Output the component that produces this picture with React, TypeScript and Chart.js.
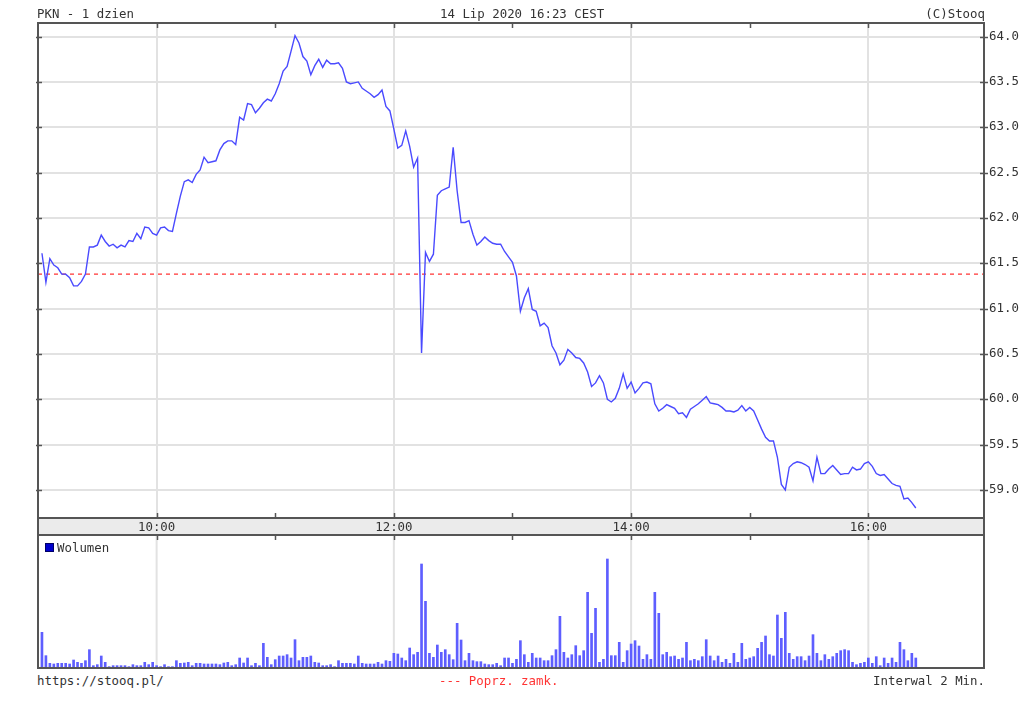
import React, { useEffect, useRef } from 'react';
import { Chart, registerables } from 'chart.js';

Chart.register(...registerables);

const FONT = "'DejaVu Sans Mono', monospace";
const FONT_SIZE = 12.4;

// Session: 9:00 start, one point every 2 minutes (first at 9:02, last at 16:24)
const SESSION_START_HOUR = 9;
const INTERVAL_MIN = 2;
const X_MAX_MIN = 478.5;

const PREV_CLOSE = 61.38;
const Y_MIN = 58.69;
const Y_MAX = 64.15;
const Y_TICKS = [59.0, 59.5, 60.0, 60.5, 61.0, 61.5, 62.0, 62.5, 63.0, 63.5, 64.0];
const X_LABEL_HOURS = [10, 12, 14, 16];
const X_TICK_HOURS = [10, 11, 12, 13, 14, 15, 16];

const PRICE = [
  61.61, 61.29, 61.55, 61.48, 61.45, 61.38, 61.38, 61.34, 61.25, 61.25,
  61.30, 61.38, 61.68, 61.68, 61.70, 61.81, 61.74, 61.69, 61.71, 61.67,
  61.70, 61.68, 61.75, 61.74, 61.83, 61.77, 61.90, 61.89, 61.83, 61.81,
  61.89, 61.90, 61.86, 61.85, 62.05, 62.24, 62.40, 62.42, 62.39, 62.48,
  62.53, 62.67, 62.61, 62.62, 62.63, 62.75, 62.82, 62.85, 62.85, 62.81,
  63.11, 63.08, 63.26, 63.25, 63.16, 63.21, 63.27, 63.31, 63.29, 63.37,
  63.48, 63.62, 63.67, 63.84, 64.01, 63.93, 63.78, 63.73, 63.58, 63.68,
  63.75, 63.66, 63.74, 63.70, 63.70, 63.71, 63.65, 63.50, 63.48, 63.49,
  63.50, 63.43, 63.40, 63.37, 63.33, 63.36, 63.41, 63.23, 63.18, 62.98,
  62.77, 62.80, 62.96, 62.79, 62.56, 62.66, 60.51, 61.62, 61.52, 61.60,
  62.25, 62.30, 62.32, 62.34, 62.78, 62.30, 61.95, 61.95, 61.97, 61.82,
  61.70, 61.74, 61.79, 61.75, 61.72, 61.71, 61.71, 61.63, 61.57, 61.51,
  61.36, 60.97, 61.12, 61.22, 60.99, 60.97, 60.81, 60.84, 60.79, 60.59,
  60.51, 60.38, 60.43, 60.55, 60.51, 60.46, 60.45, 60.40, 60.30, 60.14,
  60.18, 60.26, 60.18, 60.00, 59.97, 60.01, 60.12, 60.28, 60.12, 60.19,
  60.07, 60.12, 60.18, 60.19, 60.17, 59.95, 59.87, 59.90, 59.94, 59.92,
  59.90, 59.84, 59.85, 59.80, 59.89, 59.92, 59.95, 59.99, 60.03, 59.96,
  59.95, 59.94, 59.91, 59.87, 59.87, 59.86, 59.88, 59.93, 59.87, 59.91,
  59.87, 59.77, 59.67, 59.58, 59.54, 59.54, 59.36, 59.06, 59.00, 59.25,
  59.29, 59.31, 59.30, 59.28, 59.25, 59.10, 59.36, 59.18, 59.18, 59.23,
  59.27, 59.22, 59.17, 59.18, 59.18, 59.25, 59.22, 59.23, 59.29, 59.31,
  59.26, 59.18, 59.16, 59.17, 59.12, 59.07, 59.05, 59.04, 58.90, 58.91,
  58.86, 58.80,
];

const VOLUME = [
  107, 37, 14, 12, 14, 14, 14, 12, 24, 17,
  14, 22, 55, 7, 10, 36, 17, 4, 7, 7,
  7, 7, 4, 10, 7, 7, 17, 10, 17, 7,
  4, 10, 4, 4, 22, 14, 15, 17, 7, 14,
  14, 12, 12, 12, 12, 10, 15, 17, 7, 10,
  30, 15, 30, 7, 14, 7, 74, 32, 10, 25,
  36, 36, 40, 30, 85, 22, 32, 32, 36, 17,
  15, 7, 7, 10, 4, 22, 14, 14, 14, 12,
  36, 14, 12, 12, 12, 17, 12, 22, 20, 44,
  42, 30, 22, 60, 40, 47, 312, 200, 44, 32,
  69, 47, 55, 40, 25, 134, 84, 22, 44, 22,
  19, 19, 12, 10, 10, 14, 7, 30, 30, 14,
  26, 82, 40, 17, 44, 30, 30, 22, 22, 37,
  55, 155, 47, 30, 40, 67, 37, 52, 227, 104,
  179, 17, 26, 327, 37, 37, 77, 17, 52, 72,
  82, 66, 26, 40, 26, 227, 164, 40, 47, 34,
  36, 26, 30, 77, 22, 26, 22, 34, 85, 36,
  22, 36, 17, 26, 14, 44, 17, 74, 26, 30,
  34, 59, 77, 96, 40, 36, 159, 89, 167, 44,
  26, 34, 34, 22, 36, 100, 44, 22, 40, 26,
  34, 44, 52, 55, 52, 17, 10, 14, 17, 30,
  14, 34, 7, 30, 14, 30, 17, 77, 55, 22,
  44, 30,
];
const VOLUME_MAX = 399;

const minuteOf = (i: number) => INTERVAL_MIN * (i + 1);
const hourToMin = (h: number) => (h - SESSION_START_HOUR) * 60;

const GRID = '#e2e2e2';
const FRAME = '#555555';
const TEXT = '#333333';
const BAND_H = 17;

function tick(ctx: CanvasRenderingContext2D, x1: number, y1: number, x2: number, y2: number) {
  ctx.beginPath();
  ctx.moveTo(x1, y1);
  ctx.lineTo(x2, y2);
  ctx.stroke();
}

const pricePanelPlugin = {
  id: 'pricePanel',
  beforeDraw(chart: any) {
    const { ctx, chartArea: a } = chart;
    ctx.save();
    ctx.fillStyle = '#ebebeb';
    ctx.fillRect(a.left, a.bottom, a.right - a.left, BAND_H);
    ctx.restore();
  },
  afterDraw(chart: any) {
    const { ctx, chartArea: a, scales } = chart;
    ctx.save();
    ctx.strokeStyle = FRAME;
    ctx.lineWidth = 2;
    ctx.strokeRect(a.left, a.top, a.right - a.left, a.bottom - a.top);
    ctx.strokeRect(a.left, a.bottom, a.right - a.left, BAND_H);
    ctx.lineWidth = 1.5;
    X_TICK_HOURS.forEach((h) => {
      const x = Math.round(scales.x.getPixelForValue(hourToMin(h))) + 0.5;
      tick(ctx, x, a.top, x, a.top + 5);
      tick(ctx, x, a.bottom, x, a.bottom - 5);
    });
    Y_TICKS.forEach((v) => {
      const y = Math.round(scales.y.getPixelForValue(v)) + 0.5;
      tick(ctx, a.left - 2, y, a.left + 4, y);
      tick(ctx, a.right - 4, y, a.right + 4, y);
    });
    ctx.restore();
  },
};

const volumePanelPlugin = {
  id: 'volumePanel',
  beforeDatasetsDraw(chart: any) {
    const { ctx, chartArea: a, scales } = chart;
    ctx.save();
    ctx.strokeStyle = GRID;
    ctx.lineWidth = 2;
    X_LABEL_HOURS.forEach((h) => {
      const x = scales.x.getPixelForValue(hourToMin(h));
      tick(ctx, x, a.top, x, a.bottom);
    });
    ctx.restore();
  },
  afterDraw(chart: any) {
    const { ctx, chartArea: a, scales } = chart;
    ctx.save();
    ctx.strokeStyle = FRAME;
    ctx.lineWidth = 2;
    ctx.strokeRect(a.left, a.top, a.right - a.left, a.bottom - a.top);
    ctx.lineWidth = 1.5;
    X_TICK_HOURS.forEach((h) => {
      const x = Math.round(scales.x.getPixelForValue(hourToMin(h))) + 0.5;
      tick(ctx, x, a.top, x, a.top + 5);
    });
    ctx.restore();
  },
};

const textStyle: React.CSSProperties = {
  position: 'absolute',
  fontFamily: FONT,
  fontSize: FONT_SIZE,
  lineHeight: '14px',
  color: TEXT,
  whiteSpace: 'pre',
};

export default function App() {
  const priceRef = useRef<HTMLCanvasElement>(null);
  const volRef = useRef<HTMLCanvasElement>(null);

  useEffect(() => {
    const priceChart = new Chart(priceRef.current!, {
      type: 'line',
      data: {
        datasets: [
          {
            label: 'Poprz. zamk.',
            data: [
              { x: 0, y: PREV_CLOSE },
              { x: X_MAX_MIN, y: PREV_CLOSE },
            ],
            borderColor: '#ff3c3c',
            borderWidth: 1.3,
            borderDash: [4, 4],
            pointRadius: 0,
            order: 2,
          },
          {
            label: 'PKN',
            data: PRICE.map((v, i) => ({ x: minuteOf(i), y: v })),
            borderColor: '#4a4aff',
            borderWidth: 1.4,
            pointRadius: 0,
            tension: 0,
            order: 1,
          },
        ],
      },
      options: {
        responsive: false,
        animation: false,
        devicePixelRatio: 1,
        layout: { padding: { left: 38, top: 23, right: 0, bottom: 0 } },
        plugins: { legend: { display: false }, tooltip: { enabled: false } },
        scales: {
          x: {
            type: 'linear',
            min: 0,
            max: X_MAX_MIN,
            position: 'bottom',
            afterBuildTicks: (s: any) => {
              s.ticks = X_LABEL_HOURS.map((h) => ({ value: hourToMin(h) }));
            },
            afterFit: (s: any) => {
              s.height = BAND_H;
            },
            grid: { color: GRID, lineWidth: 2, drawTicks: false },
            border: { display: false },
            ticks: {
              callback: (v: any) => `${SESSION_START_HOUR + Number(v) / 60}:00`,
              font: { family: FONT, size: FONT_SIZE },
              color: TEXT,
              padding: 2,
              maxRotation: 0,
              autoSkip: false,
            },
          },
          y: {
            type: 'linear',
            position: 'right',
            min: Y_MIN,
            max: Y_MAX,
            afterBuildTicks: (s: any) => {
              s.ticks = Y_TICKS.map((v) => ({ value: v }));
            },
            afterFit: (s: any) => {
              s.width = 40;
            },
            grid: { color: GRID, lineWidth: 2, drawTicks: false },
            border: { display: false },
            ticks: {
              callback: (v: any) => Number(v).toFixed(1),
              font: { family: FONT, size: FONT_SIZE },
              color: TEXT,
              padding: 5,
              autoSkip: false,
            },
          },
        },
      },
      plugins: [pricePanelPlugin],
    } as any);

    const volChart = new Chart(volRef.current!, {
      type: 'bar',
      data: {
        datasets: [
          {
            label: 'Wolumen',
            data: VOLUME.map((v, i) => ({ x: minuteOf(i), y: v })),
            backgroundColor: '#5e5eff',
            borderWidth: 0,
            barThickness: 2,
          },
        ],
      },
      options: {
        responsive: false,
        animation: false,
        devicePixelRatio: 1,
        layout: { padding: { left: 38, right: 40, top: 2, bottom: 3 } },
        plugins: { legend: { display: false }, tooltip: { enabled: false } },
        scales: {
          x: { type: 'linear', min: 0, max: X_MAX_MIN, display: false, offset: false },
          y: { type: 'linear', min: 0, max: VOLUME_MAX, display: false },
        },
      },
      plugins: [volumePanelPlugin],
    } as any);

    return () => {
      priceChart.destroy();
      volChart.destroy();
    };
  }, []);

  return (
    <div style={{ position: 'fixed', left: 0, top: 0, width: 1024, height: 703, background: '#fff' }}>
      <canvas ref={priceRef} width={1024} height={535} style={{ position: 'absolute', left: 0, top: 0 }} />
      <canvas ref={volRef} width={1024} height={138} style={{ position: 'absolute', left: 0, top: 533 }} />
      <div style={{ ...textStyle, left: 37, top: 7 }}>PKN - 1 dzien</div>
      <div style={{ ...textStyle, left: 440, top: 7 }}>14 Lip 2020 16:23 CEST</div>
      <div style={{ ...textStyle, left: 0, width: 985, top: 7, textAlign: 'right' }}>(C)Stooq</div>
      <div style={{ position: 'absolute', left: 45, top: 543, width: 7, height: 7, background: '#0000cc', border: '1px solid #000066' }} />
      <div style={{ ...textStyle, left: 57, top: 541 }}>Wolumen</div>
      <div style={{ ...textStyle, left: 37, top: 674 }}>https://stooq.pl/</div>
      <div style={{ ...textStyle, left: 439, top: 674, color: '#ff3333' }}>--- Poprz. zamk.</div>
      <div style={{ ...textStyle, left: 0, width: 985, top: 674, textAlign: 'right' }}>Interwal 2 Min.</div>
    </div>
  );
}
